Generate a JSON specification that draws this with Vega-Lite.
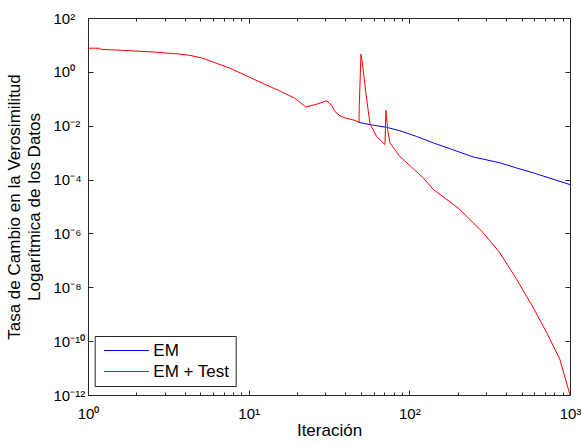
{
  "$schema": "https://vega.github.io/schema/vega-lite/v6.json",
  "width": 482,
  "height": 377,
  "autosize": {"type": "none"},
  "padding": {"left": 88, "top": 18, "right": 11, "bottom": 50},
  "background": "white",
  "config": {
    "font": "Liberation Sans",
    "view": {"stroke": "#262626", "strokeWidth": 1},
    "axis": {
      "grid": false,
      "domain": false,
      "ticks": true,
      "tickColor": "#262626",
      "tickWidth": 1,
      "tickOpacity": 1,
      "labelFlush": false,
      "labelOverlap": false,
      "labelFont": "Liberation Sans",
      "labelFontSize": 15,
      "labelColor": "black",
      "titleFont": "Liberation Sans",
      "titleFontSize": 17,
      "titleFontWeight": "normal",
      "titleColor": "black"
    },
    "legend": {
      "orient": "none",
      "legendX": 6.7,
      "legendY": 318,
      "strokeColor": "#262626",
      "fillColor": "white",
      "padding": 6,
      "symbolType": "M-0.7,0H5.3",
      "symbolSize": 225,
      "symbolStrokeWidth": 1,
      "labelFont": "Liberation Sans",
      "labelFontSize": 17,
      "labelColor": "black",
      "labelOffset": 35.6,
      "rowPadding": 3
    }
  },
  "datasets": {
    "curves": [
      {"series": "EM + Test", "i": 1, "x": 1, "y": 7.55},
      {"series": "EM + Test", "i": 2, "x": 1.18, "y": 7.55},
      {"series": "EM + Test", "i": 3, "x": 1.19, "y": 6.93},
      {"series": "EM + Test", "i": 4, "x": 1.37, "y": 6.64},
      {"series": "EM + Test", "i": 5, "x": 1.82, "y": 6.1},
      {"series": "EM + Test", "i": 6, "x": 2.61, "y": 5.41},
      {"series": "EM + Test", "i": 7, "x": 3.63, "y": 4.64},
      {"series": "EM + Test", "i": 8, "x": 4.3, "y": 4.1},
      {"series": "EM + Test", "i": 9, "x": 5.1, "y": 3.3},
      {"series": "EM + Test", "i": 10, "x": 5.74, "y": 2.55},
      {"series": "EM + Test", "i": 11, "x": 7.65, "y": 1.37},
      {"series": "EM + Test", "i": 12, "x": 9.9, "y": 0.67},
      {"series": "EM + Test", "i": 13, "x": 12.6, "y": 0.344},
      {"series": "EM + Test", "i": 14, "x": 15.7, "y": 0.193},
      {"series": "EM + Test", "i": 15, "x": 19.4, "y": 0.104},
      {"series": "EM + Test", "i": 16, "x": 22.7, "y": 0.0493},
      {"series": "EM + Test", "i": 17, "x": 27, "y": 0.0653},
      {"series": "EM + Test", "i": 18, "x": 30.6, "y": 0.0843},
      {"series": "EM + Test", "i": 19, "x": 33, "y": 0.055},
      {"series": "EM + Test", "i": 20, "x": 34.4, "y": 0.0339},
      {"series": "EM + Test", "i": 21, "x": 37, "y": 0.0234},
      {"series": "EM + Test", "i": 22, "x": 39.8, "y": 0.0195},
      {"series": "EM + Test", "i": 23, "x": 45.8, "y": 0.0158},
      {"series": "EM + Test", "i": 24, "x": 48.6, "y": 0.0132},
      {"series": "EM + Test", "i": 25, "x": 48.8, "y": 0.055},
      {"series": "EM + Test", "i": 26, "x": 50, "y": 4.53},
      {"series": "EM + Test", "i": 27, "x": 50.9, "y": 2.4},
      {"series": "EM + Test", "i": 28, "x": 53.7, "y": 0.155},
      {"series": "EM + Test", "i": 29, "x": 56.9, "y": 0.0115},
      {"series": "EM + Test", "i": 30, "x": 62.6, "y": 0.00398},
      {"series": "EM + Test", "i": 31, "x": 70.5, "y": 0.002},
      {"series": "EM + Test", "i": 32, "x": 71.5, "y": 0.037},
      {"series": "EM + Test", "i": 33, "x": 73.3, "y": 0.0071},
      {"series": "EM + Test", "i": 34, "x": 75.7, "y": 0.0023},
      {"series": "EM + Test", "i": 35, "x": 87.4, "y": 0.00072},
      {"series": "EM + Test", "i": 36, "x": 122, "y": 0.000115},
      {"series": "EM + Test", "i": 37, "x": 141, "y": 4.27e-5},
      {"series": "EM + Test", "i": 38, "x": 201, "y": 8.9e-6},
      {"series": "EM + Test", "i": 39, "x": 288, "y": 1.07e-6},
      {"series": "EM + Test", "i": 40, "x": 366, "y": 1.9e-7},
      {"series": "EM + Test", "i": 41, "x": 465, "y": 2.0e-8},
      {"series": "EM + Test", "i": 42, "x": 590, "y": 1.78e-9},
      {"series": "EM + Test", "i": 43, "x": 715, "y": 2.1e-10},
      {"series": "EM + Test", "i": 44, "x": 865, "y": 2.1e-11},
      {"series": "EM + Test", "i": 45, "x": 1000, "y": 1e-12},
      {"series": "EM", "i": 1, "x": 48.6, "y": 0.0132},
      {"series": "EM", "i": 2, "x": 56.9, "y": 0.011},
      {"series": "EM", "i": 3, "x": 72.3, "y": 0.0087},
      {"series": "EM", "i": 4, "x": 87.3, "y": 0.0065},
      {"series": "EM", "i": 5, "x": 111, "y": 0.004},
      {"series": "EM", "i": 6, "x": 141, "y": 0.0023},
      {"series": "EM", "i": 7, "x": 179, "y": 0.0014},
      {"series": "EM", "i": 8, "x": 250, "y": 0.00069},
      {"series": "EM", "i": 9, "x": 366, "y": 0.00042},
      {"series": "EM", "i": 10, "x": 465, "y": 0.00027},
      {"series": "EM", "i": 11, "x": 590, "y": 0.000178},
      {"series": "EM", "i": 12, "x": 1000, "y": 6.5e-5}
    ]
  },
  "data": {"name": "curves"},
  "layer": [
    {
      "transform": [{"filter": "datum.series === 'EM'"}],
      "mark": {"type": "line", "strokeWidth": 1, "clip": true},
      "encoding": {
        "x": {
          "field": "x", "type": "quantitative",
          "scale": {"type": "log", "domain": [1, 1000], "nice": false},
          "axis": {
            "orient": "bottom", "title": "Iteración", "values": [1, 10, 100, 1000],
            "offset": -5, "tickSize": 5, "labelPadding": 11, "titlePadding": 1,
            "labelExpr": "'10' + replace(replace(replace(replace(replace(replace(replace(replace('' + round(log(datum.value)/LN10), '-', '⁻'), '0', '⁰'), '1', '¹'), '2', '²'), '3', '³'), '4', '⁴'), '6', '⁶'), '8', '⁸')"
          }
        },
        "y": {
          "field": "y", "type": "quantitative",
          "scale": {"type": "log", "domain": [1e-12, 100], "nice": false},
          "axis": {
            "orient": "left",
            "title": ["Tasa de Cambio en la Verosimilitud", "Logarítmica de los Datos"],
            "titleLineHeight": 20,
            "values": [1e-12, 1e-10, 1e-8, 1e-6, 1e-4, 0.01, 1, 100],
            "offset": -5, "tickSize": 5,
            "labelAlign": "left", "labelPadding": 35, "titlePadding": 10,
            "labelExpr": "'10' + replace(replace(replace(replace(replace(replace(replace(replace('' + round(log(datum.value)/LN10), '-', '⁻'), '0', '⁰'), '1', '¹'), '2', '²'), '3', '³'), '4', '⁴'), '6', '⁶'), '8', '⁸')"
          }
        },
        "color": {
          "field": "series", "type": "nominal",
          "scale": {"domain": ["EM", "EM + Test"], "range": ["#0000ff", "#ff0000"]},
          "legend": {"title": null}
        },
        "order": {"field": "i", "type": "quantitative"}
      }
    },
    {
      "transform": [{"filter": "datum.series === 'EM + Test'"}],
      "mark": {"type": "line", "strokeWidth": 1, "clip": true},
      "encoding": {
        "x": {
          "field": "x", "type": "quantitative",
          "scale": {"type": "log", "domain": [1, 1000], "nice": false},
          "axis": {"orient": "top", "title": null, "values": [1, 10, 100, 1000], "offset": -5, "tickSize": 5, "labels": false}
        },
        "y": {
          "field": "y", "type": "quantitative",
          "scale": {"type": "log", "domain": [1e-12, 100], "nice": false},
          "axis": {"orient": "right", "title": null, "values": [1e-12, 1e-10, 1e-8, 1e-6, 1e-4, 0.01, 1, 100], "offset": -5, "tickSize": 5, "labels": false}
        },
        "color": {
          "field": "series", "type": "nominal",
          "scale": {"domain": ["EM", "EM + Test"], "range": ["#0000ff", "#ff0000"]},
          "legend": {"title": null}
        },
        "order": {"field": "i", "type": "quantitative"}
      }
    },
    {
      "transform": [{"filter": "datum.series === 'EM'"}],
      "mark": {"type": "line", "strokeOpacity": 0, "clip": true},
      "encoding": {
        "x": {
          "field": "x", "type": "quantitative",
          "scale": {"type": "log", "domain": [1, 1000], "nice": false},
          "axis": {"orient": "bottom", "title": null, "values": [2, 3, 4, 5, 6, 7, 8, 9, 20, 30, 40, 50, 60, 70, 80, 90, 200, 300, 400, 500, 600, 700, 800, 900], "offset": -3, "tickSize": 3, "labels": false}
        },
        "y": {
          "field": "y", "type": "quantitative",
          "scale": {"type": "log", "domain": [1e-12, 100], "nice": false},
          "axis": null
        },
        "order": {"field": "i", "type": "quantitative"}
      }
    },
    {
      "transform": [{"filter": "datum.series === 'EM'"}],
      "mark": {"type": "line", "strokeOpacity": 0, "clip": true},
      "encoding": {
        "x": {
          "field": "x", "type": "quantitative",
          "scale": {"type": "log", "domain": [1, 1000], "nice": false},
          "axis": {"orient": "top", "title": null, "values": [2, 3, 4, 5, 6, 7, 8, 9, 20, 30, 40, 50, 60, 70, 80, 90, 200, 300, 400, 500, 600, 700, 800, 900], "offset": -3, "tickSize": 3, "labels": false}
        },
        "y": {
          "field": "y", "type": "quantitative",
          "scale": {"type": "log", "domain": [1e-12, 100], "nice": false},
          "axis": null
        },
        "order": {"field": "i", "type": "quantitative"}
      }
    }
  ],
  "resolve": {"axis": {"x": "independent", "y": "independent"}}
}
